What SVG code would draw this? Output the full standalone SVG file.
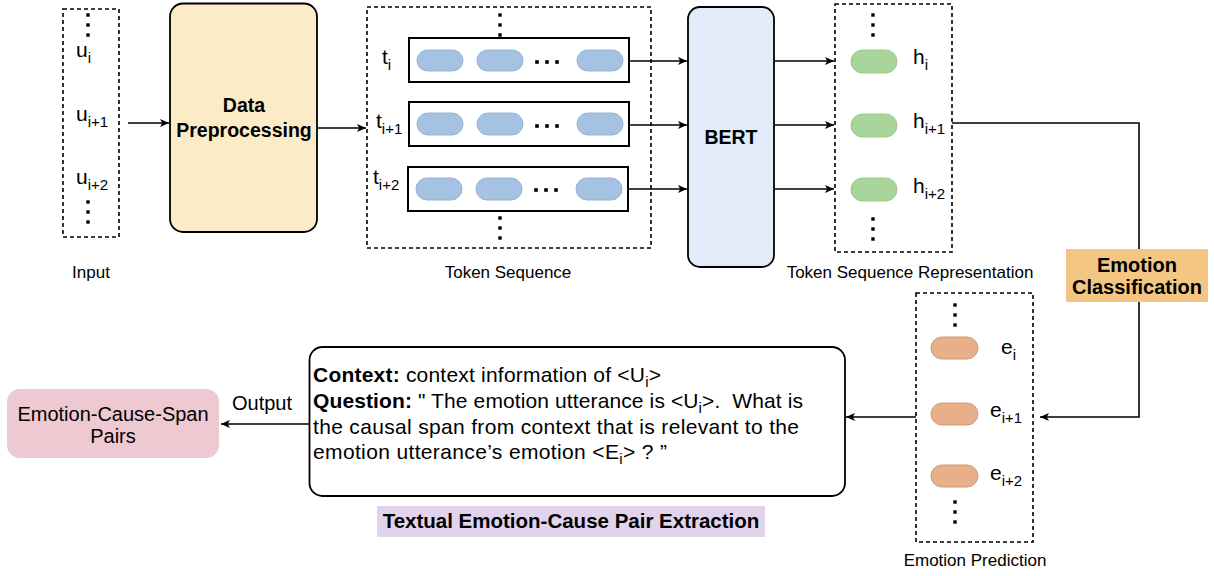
<svg xmlns="http://www.w3.org/2000/svg" width="1214" height="576" viewBox="0 0 1214 576">
<style>
text{font-family:"Liberation Sans",Arial,sans-serif;fill:#000}
.lbl{font-size:17px}
.big{font-size:20px}
.var{font-size:21px}
.sub{font-size:15px}
.qt{font-size:21px}
.bold{font-weight:bold}
.dash{fill:none;stroke:#000;stroke-width:1.6;stroke-dasharray:4 3}
.row{fill:#fff;stroke:#000;stroke-width:2}
.bp{fill:#A6C2E2;stroke:#97B2D2;stroke-width:1}
.gp{fill:#A9D59B;stroke:#98CB88;stroke-width:1}
.op{fill:#E8B08A;stroke:#D09A75;stroke-width:1}
.con{fill:none;stroke:#000;stroke-width:1.6}
.dot{fill:#000}
</style>
<defs>
<marker id="arr" viewBox="0 0 10 10" refX="10" refY="5" markerWidth="9" markerHeight="9" orient="auto" markerUnits="userSpaceOnUse">
<path d="M0,0.5 L10,5 L0,9.5 L2.5,5 z" fill="#000"/>
</marker>
<g id="vdots">
<rect x="-1.7" y="-1.7" width="3.4" height="3.4"/>
<rect x="-1.7" y="8.3" width="3.4" height="3.4"/>
<rect x="-1.7" y="18.3" width="3.4" height="3.4"/>
</g>
<g id="hdots">
<rect x="-1.8" y="-1.8" width="3.6" height="3.6"/>
<rect x="8.2" y="-1.8" width="3.6" height="3.6"/>
<rect x="18.2" y="-1.8" width="3.6" height="3.6"/>
</g>
</defs>
<rect width="1214" height="576" fill="#fff"/>

<g id="connectors">
<path class="con" d="M128,123 H169" marker-end="url(#arr)"/>
<path class="con" d="M318,128 H366" marker-end="url(#arr)"/>
<path class="con" d="M629,61 H687" marker-end="url(#arr)"/>
<path class="con" d="M629,125 H687" marker-end="url(#arr)"/>
<path class="con" d="M628,189 H687" marker-end="url(#arr)"/>
<path class="con" d="M774,61 H834" marker-end="url(#arr)"/>
<path class="con" d="M774,125 H834" marker-end="url(#arr)"/>
<path class="con" d="M774,189 H834" marker-end="url(#arr)"/>
<path class="con" d="M952,123 H1139 V417 H1040" marker-end="url(#arr)"/>
<path class="con" d="M916,417 H846" marker-end="url(#arr)"/>
<path class="con" d="M309,424 H221" marker-end="url(#arr)"/>
</g>

<g id="input">
<rect class="dash" x="63" y="9" width="56" height="228"/>
<use href="#vdots" x="88" y="15" class="dot"/>
<text class="var" x="76" y="57">u<tspan class="sub" dy="6">i</tspan></text>
<text class="var" x="76" y="121">u<tspan class="sub" dy="6">i+1</tspan></text>
<text class="var" x="76" y="184">u<tspan class="sub" dy="6">i+2</tspan></text>
<use href="#vdots" x="88" y="202" class="dot"/>
<text class="lbl" x="91" y="278" text-anchor="middle">Input</text>
</g>

<g id="data-preprocessing">
<rect x="170" y="3.5" width="147" height="228.5" rx="13" fill="#FBEBC6" stroke="#000" stroke-width="1.8"/>
<text class="bold" font-size="19.5" x="244" y="112" text-anchor="middle">Data</text>
<text class="bold" font-size="19.5" x="244" y="137" text-anchor="middle">Preprocessing</text>
</g>

<g id="token-sequence">
<rect class="dash" x="367" y="7" width="284" height="241"/>
<use href="#vdots" x="500" y="15" class="dot"/>
<rect class="row" x="409" y="38" width="220" height="44"/>
<rect class="bp" x="417" y="50" width="46" height="21" rx="10.5"/>
<rect class="bp" x="477" y="50" width="46" height="21" rx="10.5"/>
<use href="#hdots" x="537" y="62" class="dot"/>
<rect class="bp" x="577" y="50" width="46" height="21" rx="10.5"/>
<text class="var" x="382" y="64">t<tspan class="sub" dy="6">i</tspan></text>
<rect class="row" x="409" y="102" width="220" height="44"/>
<rect class="bp" x="417" y="113" width="46" height="22" rx="11"/>
<rect class="bp" x="477" y="113" width="46" height="22" rx="11"/>
<use href="#hdots" x="537" y="126" class="dot"/>
<rect class="bp" x="577" y="113" width="46" height="22" rx="11"/>
<text class="var" x="376" y="128">t<tspan class="sub" dy="6">i+1</tspan></text>
<rect class="row" x="408" y="167" width="220" height="44"/>
<rect class="bp" x="416" y="178" width="46" height="22" rx="11"/>
<rect class="bp" x="476" y="178" width="46" height="22" rx="11"/>
<use href="#hdots" x="536" y="190" class="dot"/>
<rect class="bp" x="576" y="178" width="46" height="22" rx="11"/>
<text class="var" x="373" y="184">t<tspan class="sub" dy="6">i+2</tspan></text>
<use href="#vdots" x="500" y="218" class="dot"/>
<text class="lbl" x="508" y="278" text-anchor="middle">Token Sequence</text>
</g>

<g id="bert">
<rect x="688" y="7" width="86" height="260" rx="12" fill="#E1EBFA" stroke="#000" stroke-width="1.8"/>
<text class="bold" font-size="19.5" x="731" y="144" text-anchor="middle">BERT</text>
</g>

<g id="token-sequence-representation">
<rect class="dash" x="835" y="4" width="117" height="248"/>
<use href="#vdots" x="873" y="15" class="dot"/>
<rect class="gp" x="851" y="50" width="46" height="23" rx="11.5"/>
<text class="var" x="913" y="64">h<tspan class="sub" dy="6">i</tspan></text>
<rect class="gp" x="851" y="114" width="46" height="23" rx="11.5"/>
<text class="var" x="913" y="128">h<tspan class="sub" dy="6">i+1</tspan></text>
<rect class="gp" x="851" y="178" width="46" height="23" rx="11.5"/>
<text class="var" x="913" y="193">h<tspan class="sub" dy="6">i+2</tspan></text>
<use href="#vdots" x="873" y="219" class="dot"/>
<text class="lbl" x="910" y="278" text-anchor="middle">Token Sequence Representation</text>
</g>

<g id="emotion-classification">
<rect x="1066" y="249" width="142" height="53" fill="#F3C683"/>
<text class="bold" font-size="20" x="1137" y="272" text-anchor="middle">Emotion</text>
<text class="bold" font-size="20" x="1137" y="294" text-anchor="middle">Classification</text>
</g>

<g id="emotion-prediction">
<rect class="dash" x="916" y="293" width="117" height="249"/>
<use href="#vdots" x="955" y="305" class="dot"/>
<rect class="op" x="931" y="337" width="47" height="22" rx="11"/>
<text class="var" x="1001" y="354">e<tspan class="sub" dy="6">i</tspan></text>
<rect class="op" x="931" y="403" width="47" height="22" rx="11"/>
<text class="var" x="990" y="417">e<tspan class="sub" dy="6">i+1</tspan></text>
<rect class="op" x="931" y="465" width="47" height="22" rx="11"/>
<text class="var" x="990" y="480">e<tspan class="sub" dy="6">i+2</tspan></text>
<use href="#vdots" x="955" y="502" class="dot"/>
<text class="lbl" x="975" y="566" text-anchor="middle">Emotion Prediction</text>
</g>

<g id="question-box">
<rect x="309.5" y="347" width="535.5" height="149" rx="13" fill="#fff" stroke="#000" stroke-width="1.8"/>
<text class="qt" x="313" y="382" textLength="348"><tspan font-weight="bold">Context:</tspan> context information of &lt;U<tspan class="sub" dy="5">i</tspan><tspan dy="-5">&gt;</tspan></text>
<text class="qt" x="313" y="408" xml:space="preserve" textLength="490"><tspan font-weight="bold">Question:</tspan> " The emotion utterance is &lt;U<tspan class="sub" dy="5">i</tspan><tspan dy="-5">&gt;.  What is</tspan></text>
<text class="qt" x="313" y="434" textLength="486">the causal span from context that is relevant to the</text>
<text class="qt" x="313" y="459" textLength="354">emotion utterance’s emotion &lt;E<tspan class="sub" dy="5">i</tspan><tspan dy="-5">&gt; ? ”</tspan></text>
</g>

<g id="task-label">
<rect x="377" y="506" width="388" height="31" fill="#E1D3EC"/>
<text class="bold" font-size="20.5" x="571" y="528" text-anchor="middle">Textual Emotion-Cause Pair Extraction</text>
</g>

<g id="output-pairs">
<rect x="7" y="389" width="212" height="69" rx="13" fill="#EEC9D2"/>
<text class="big" x="113" y="421" text-anchor="middle">Emotion-Cause-Span</text>
<text class="big" x="113" y="443" text-anchor="middle">Pairs</text>
</g>

<g id="output-label">
<text class="big" x="262" y="410" text-anchor="middle">Output</text>
</g>
</svg>
